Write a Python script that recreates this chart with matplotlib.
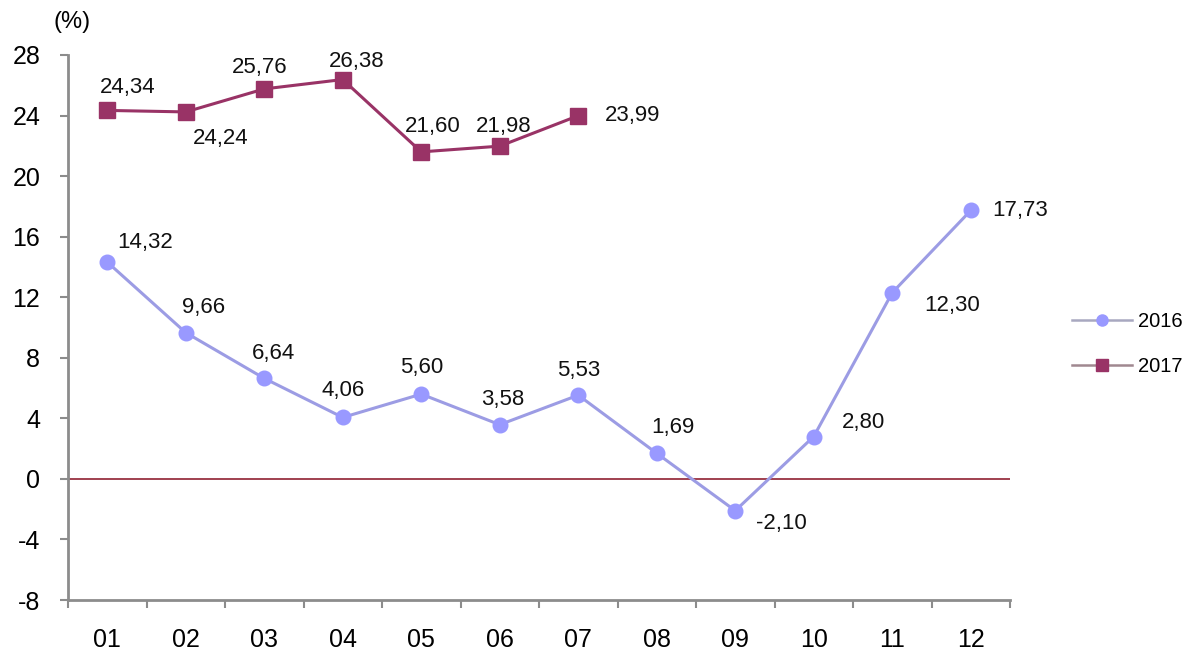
import numpy as np
import matplotlib
matplotlib.use('Agg')
import matplotlib.pyplot as plt
from matplotlib.lines import Line2D

plt.rcParams['font.family'] = ['Liberation Sans', 'DejaVu Sans']

months = ['01', '02', '03', '04', '05', '06', '07', '08', '09', '10', '11', '12']
vals_2016 = [14.32, 9.66, 6.64, 4.06, 5.60, 3.58, 5.53, 1.69, -2.10, 2.80, 12.30, 17.73]
vals_2017 = [24.34, 24.24, 25.76, 26.38, 21.60, 21.98, 23.99]

# label offsets in pixels (dx, dy) from each point
off_2016 = [(38, 20), (18, 25), (9, 25), (0, 27), (0, 27), (3, 25), (0, 25),
            (16, 26), (46, -13), (50, 14), (60, -13), (49, 0)]
off_2017 = [(20, 23), (35, -27), (-5, 21), (14, 18), (12, 25), (4, 20), (54, 0)]

c16 = '#9999FF'
c16_line = '#9C9CE4'
c17 = '#993366'
axis_gray = '#8C8C8C'


def fmt(v):
    return f'{v:.2f}'.replace('.', ',')


fig = plt.figure(figsize=(12, 6.6), dpi=100)
ax = fig.add_axes([68 / 1200, 60 / 660, 942 / 1200, 545 / 660])

x16 = np.arange(len(vals_2016))
x17 = np.arange(len(vals_2017))

ax.axhline(0, color='#A0404F', lw=1.4, zorder=1)

ax.plot(x16, vals_2016, color=c16_line, lw=2.2, marker='o', ms=10.5,
        mfc=c16, mec=c16, zorder=3)
ax.plot(x17, vals_2017, color=c17, lw=2.2, marker='s', ms=12,
        mfc=c17, mec=c17, zorder=3)

for x, v, (dx, dy) in zip(x16, vals_2016, off_2016):
    ax.annotate(fmt(v), (x, v), xytext=(dx * 0.72, dy * 0.72), textcoords='offset points',
                ha='center', va='center', fontsize=16, color='#111111')
for x, v, (dx, dy) in zip(x17, vals_2017, off_2017):
    ax.annotate(fmt(v), (x, v), xytext=(dx * 0.72, dy * 0.72), textcoords='offset points',
                ha='center', va='center', fontsize=16, color='#111111')

ax.set_xlim(-0.5, 11.5)
ax.set_ylim(-8, 28)
ax.set_yticks(np.arange(-8, 29, 4))
ax.set_yticklabels([str(t) for t in range(-8, 29, 4)], fontsize=18)

ax.set_xticks(np.arange(-0.5, 12, 1))
ax.set_xticklabels([])
ax.set_xticks(np.arange(12), minor=True)
ax.set_xticklabels(months, minor=True, fontsize=18)
ax.tick_params(axis='x', which='minor', length=0, pad=20)
ax.tick_params(axis='x', which='major', length=6, width=1.5, color=axis_gray, direction='out')
ax.tick_params(axis='y', length=6, width=1.5, color=axis_gray, direction='out', pad=14)

for s in ['top', 'right']:
    ax.spines[s].set_visible(False)
for s in ['left', 'bottom']:
    ax.spines[s].set_color(axis_gray)
    ax.spines[s].set_linewidth(2)

fig.text(72 / 1200, 1 - 22 / 660, '(%)', fontsize=17, ha='center', va='center')

h16 = Line2D([], [], color='#A8A8C0', lw=1.8, marker='o', ms=8, mfc=c16, mec=c16)
h17 = Line2D([], [], color='#A08890', lw=1.8, marker='s', ms=8, mfc=c17, mec=c17)
fig.legend(handles=[h16, h17], labels=['2016', '2017'], loc='center left',
           bbox_to_anchor=(1072 / 1200, 1 - 344 / 660),
           frameon=False, fontsize=14.5, handlelength=3.0, labelspacing=1.3,
           handletextpad=0.3, borderaxespad=0, borderpad=0)

fig.savefig('out.png', dpi=100, facecolor='white')
